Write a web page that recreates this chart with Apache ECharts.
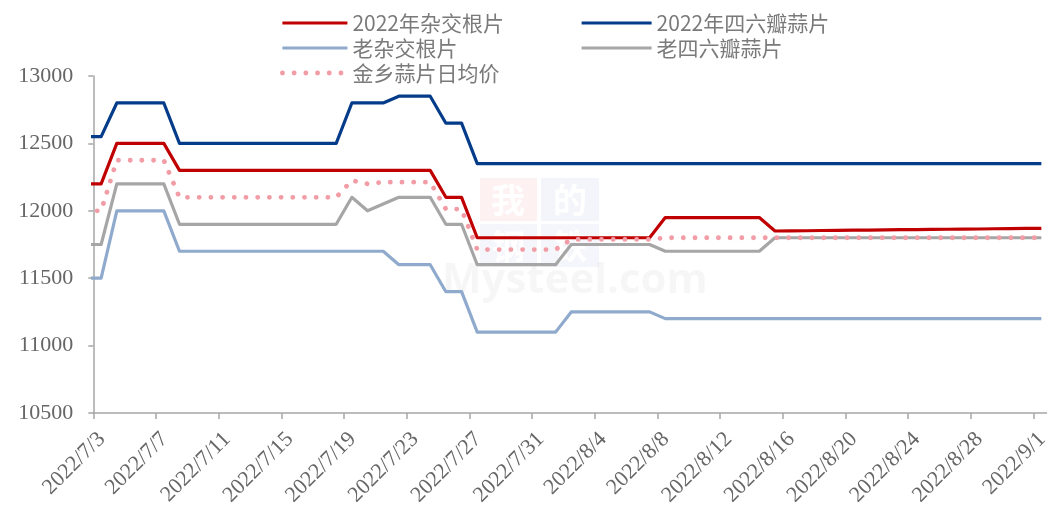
<!DOCTYPE html>
<html>
<head>
<meta charset="utf-8">
<script src="https://cdn.jsdelivr.net/npm/echarts/dist/echarts.min.js"></script>
<style>html,body{margin:0;padding:0;background:#fff;}#c{width:1047px;height:513px;}</style>
</head>
<body>
<div id="c"></div>
<script>
// Dates: first entry (7/2) only feeds the line segment entering the plot at the left edge
const dates = ['2022/7/2','2022/7/3','2022/7/4','2022/7/5','2022/7/6','2022/7/7','2022/7/8','2022/7/9','2022/7/10','2022/7/11','2022/7/12','2022/7/13','2022/7/14','2022/7/15','2022/7/16','2022/7/17','2022/7/18','2022/7/19','2022/7/20','2022/7/21','2022/7/22','2022/7/23','2022/7/24','2022/7/25','2022/7/26','2022/7/27','2022/7/28','2022/7/29','2022/7/30','2022/7/31','2022/8/1','2022/8/2','2022/8/3','2022/8/4','2022/8/5','2022/8/6','2022/8/7','2022/8/8','2022/8/9','2022/8/10','2022/8/11','2022/8/12','2022/8/13','2022/8/14','2022/8/15','2022/8/16','2022/8/17','2022/8/18','2022/8/19','2022/8/20','2022/8/21','2022/8/22','2022/8/23','2022/8/24','2022/8/25','2022/8/26','2022/8/27','2022/8/28','2022/8/29','2022/8/30','2022/8/31','2022/9/1'];

const hybrid2022 = [12200,12200,12500,12500,12500,12500,
  12300,12300,12300,12300,12300,12300,12300,12300,12300,12300,12300,12300,12300,12300,12300,12300,12300,
  12100,12100,
  11800,11800,11800,11800,11800,11800,11800,11800,11800,11800,11800,11800,
  11950,11950,11950,11950,11950,11950,11950,
  11850,11851,11852,11854,11855,11856,11857,11858,11860,11861,11862,11863,11864,11865,11867,11868,11869,11870];

const sixClove2022 = [12550,12550,12800,12800,12800,12800,
  12500,12500,12500,12500,12500,12500,12500,12500,12500,12500,12500,
  12800,12800,12800,
  12850,12850,12850,
  12650,12650,
  12350,12350,12350,12350,12350,12350,12350,12350,12350,12350,12350,12350,12350,12350,12350,12350,12350,12350,12350,12350,12350,12350,12350,12350,12350,12350,12350,12350,12350,12350,12350,12350,12350,12350,12350,12350,12350];

const hybridOld = [11500,11500,12000,12000,12000,12000,
  11700,11700,11700,11700,11700,11700,11700,11700,11700,11700,11700,11700,11700,11700,
  11600,11600,11600,
  11400,11400,
  11100,11100,11100,11100,11100,11100,
  11250,11250,11250,11250,11250,11250,
  11200,11200,11200,11200,11200,11200,11200,11200,11200,11200,11200,11200,11200,11200,11200,11200,11200,11200,11200,11200,11200,11200,11200,11200,11200];

const sixCloveOld = [11750,11750,12200,12200,12200,12200,
  11900,11900,11900,11900,11900,11900,11900,11900,11900,11900,11900,
  12100,12000,12050,
  12100,12100,12100,
  11900,11900,
  11600,11600,11600,11600,11600,11600,
  11750,11750,11750,11750,11750,11750,
  11700,11700,11700,11700,11700,11700,11700,
  11800,11800,11800,11800,11800,11800,11800,11800,11800,11800,11800,11800,11800,11800,11800,11800,11800,11800];

const jinxiangAvg = [12000,12000,12375,12375,12375,12375,
  12100,12100,12100,12100,12100,12100,12100,12100,12100,12100,12100,
  12225,12200,12212.5,
  12212.5,12212.5,12212.5,
  12012.5,12012.5,
  11712.5,11712.5,11712.5,11712.5,11712.5,11712.5,
  11787.5,11787.5,11787.5,11787.5,11787.5,11787.5,
  11800,11800,11800,11800,11800,11800,11800,11800,11800,11800,11800,11800,11800,11800,11800,11800,11800,11800,11800,11800,11800,11800,11800,11800,11800];

const seriesNames = ['2022年杂交根片','2022年四六瓣蒜片','老杂交根片','老四六瓣蒜片','金乡蒜片日均价'];
const yMin = 10500, yMax = 13000, yStep = 500;

const colors = {hybrid2022: '#C00000', sixClove2022: '#053C8A', hybridOld: '#8FAACC', sixCloveOld: '#A6A6A6', avg: '#F29CA6'};
const axisColor = '#A6A6A6';
const serif = "'Liberation Serif','Times New Roman',serif";
const cjk = "'Noto Sans CJK SC','Noto Sans',sans-serif";
const toPts = arr => arr.map((v, j) => [j - 0.5, v]);
const dotStyle = {width: 4.8, type: [0.1, 11.6], cap: 'round'};

function mk(name, arr, color, lineStyle) {
  return {
    name, type: 'line', xAxisIndex: 1, yAxisIndex: 0,
    data: toPts(arr), symbol: 'none', showSymbol: false, clip: true,
    silent: true, animation: false,
    lineStyle: Object.assign({color, width: 3.2, join: 'round', cap: 'butt'}, lineStyle || {}),
    itemStyle: {color}, z: 3
  };
}

const chart = echarts.init(document.getElementById('c'), null, {renderer: 'canvas'});
const legendText = {fontFamily: cjk, fontSize: 21, lineHeight: 22, color: '#7a7a7a'};
const legendBase = {orient: 'vertical', top: 12, padding: 0, itemHeight: 14, itemGap: 3,
  selectedMode: false, textStyle: legendText, itemStyle: {opacity: 0},
  lineStyle: {width: 3.2, type: 'solid', cap: 'butt'}};
const solidItem = (name, color) => ({name, lineStyle: {color, width: 3.2, type: 'solid', cap: 'butt'}});
chart.setOption({
  animation: false,
  backgroundColor: '#fff',
  grid: {left: 93.3, top: 76, width: 955.9, height: 337, containLabel: false, outerBoundsMode: 'none'},
  legend: [
    Object.assign({}, legendBase, {left: 280, itemWidth: 65, data: [
      solidItem(seriesNames[0], colors.hybrid2022),
      solidItem(seriesNames[2], colors.hybridOld),
      {name: seriesNames[4], lineStyle: Object.assign({color: colors.avg}, dotStyle)}
    ]}),
    Object.assign({}, legendBase, {left: 580, itemWidth: 70, data: [
      solidItem(seriesNames[1], colors.sixClove2022),
      solidItem(seriesNames[3], colors.sixCloveOld)
    ]})
  ],
  graphic: [
    {type: 'group', left: 480, top: 178, z: 0, silent: true, children: [
      {type: 'rect', shape: {x: 0, y: 0, width: 57, height: 43}, style: {fill: 'rgba(220,60,60,0.07)'}},
      {type: 'rect', shape: {x: 61, y: 0, width: 58, height: 43}, style: {fill: 'rgba(60,80,170,0.06)'}},
      {type: 'rect', shape: {x: 0, y: 46, width: 57, height: 43}, style: {fill: 'rgba(60,80,170,0.05)'}},
      {type: 'rect', shape: {x: 61, y: 46, width: 58, height: 43}, style: {fill: 'rgba(60,80,170,0.05)'}},
      {type: 'text', style: {x: 28, y: 22, text: '我', fill: '#ffffff', font: "bold 34px 'Noto Sans CJK SC'", align: 'center', verticalAlign: 'middle'}},
      {type: 'text', style: {x: 90, y: 22, text: '的', fill: '#ffffff', font: "bold 34px 'Noto Sans CJK SC'", align: 'center', verticalAlign: 'middle'}},
      {type: 'text', style: {x: 28, y: 68, text: '钢', fill: '#ffffff', font: "bold 34px 'Noto Sans CJK SC'", align: 'center', verticalAlign: 'middle'}},
      {type: 'text', style: {x: 90, y: 68, text: '铁', fill: '#ffffff', font: "bold 34px 'Noto Sans CJK SC'", align: 'center', verticalAlign: 'middle'}}
    ]},
    {type: 'text', left: 442, top: 260, z: 0, silent: true,
     style: {text: 'Mysteel.com', fill: 'rgba(0,0,0,0.035)', font: "bold 42px 'Open Sans', sans-serif"}}
  ],
  xAxis: [
    {type: 'category', data: dates.slice(1), boundaryGap: true, position: 'bottom',
     axisLine: {show: true, lineStyle: {color: axisColor, width: 1.5}},
     axisTick: {show: true, interval: 3, length: 6, lineStyle: {color: axisColor, width: 1.5}},
     axisLabel: {interval: 3, rotate: 45, margin: 8, align: 'right', verticalAlign: 'top',
       padding: [0, 10, 0, 0], fontFamily: serif, fontSize: 22, color: '#666'},
     splitLine: {show: false}},
    {type: 'value', min: 0, max: 61, show: false, splitLine: {show: false}}
  ],
  yAxis: {type: 'value', min: yMin, max: yMax, interval: yStep,
    axisLine: {show: true, lineStyle: {color: axisColor, width: 1.5}},
    axisTick: {show: true, length: 5, lineStyle: {color: axisColor, width: 1.5}},
    axisLabel: {margin: 20, fontFamily: serif, fontSize: 22, color: '#666', formatter: v => String(v)},
    splitLine: {show: false}},
  series: [
    mk(seriesNames[2], hybridOld, colors.hybridOld),
    mk(seriesNames[3], sixCloveOld, colors.sixCloveOld),
    mk(seriesNames[1], sixClove2022, colors.sixClove2022),
    mk(seriesNames[0], hybrid2022, colors.hybrid2022),
    mk(seriesNames[4], jinxiangAvg, colors.avg, dotStyle)
  ]
});
</script>
</body>
</html>
